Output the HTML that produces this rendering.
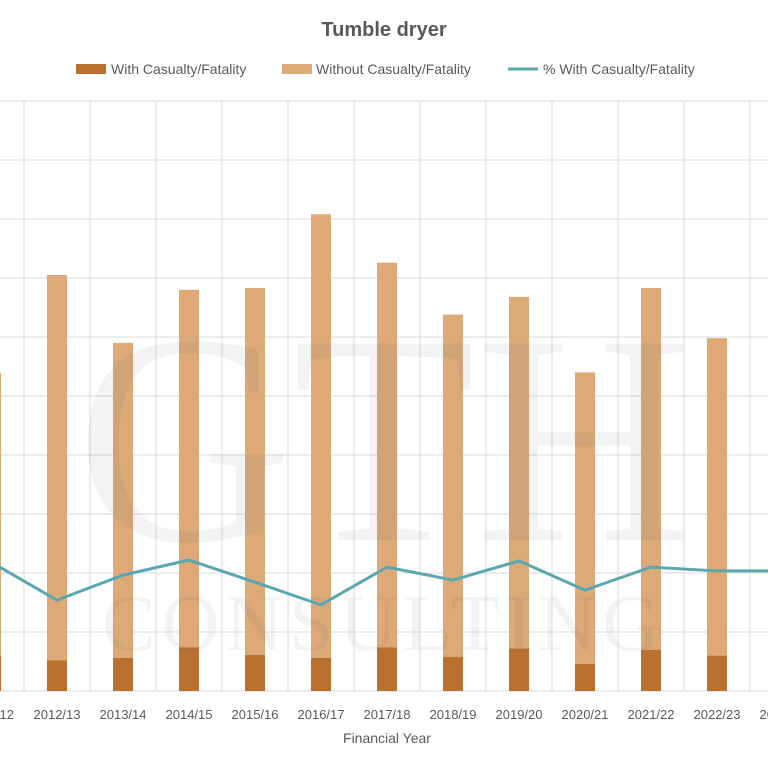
<!DOCTYPE html>
<html><head><meta charset="utf-8"><style>
html,body{margin:0;padding:0;background:#fff;}
svg{display:block;font-family:"Liberation Sans",sans-serif;}
</style></head><body>
<svg id="chart" width="768" height="768" viewBox="0 0 768 768">
<rect width="768" height="768" fill="#fff"/>
<g id="grid"></g>
<g id="bars"></g>
<g id="watermark" opacity="0.06">
<text x="384" y="540" text-anchor="middle" font-family="Liberation Serif,serif" font-size="300" fill="#3a4a6a">GTH</text>
<text x="384" y="650" text-anchor="middle" font-family="Liberation Serif,serif" font-size="80" letter-spacing="6" fill="#3a4a6a">CONSULTING</text>
</g>
<g id="line"></g>
<g id="xticks"></g>
<text x="384" y="36" text-anchor="middle" font-size="20" font-weight="bold" fill="#595959">Tumble dryer</text>
<g font-size="14" fill="#595959">
<g><rect x="76" y="64" width="30" height="10" fill="#B8712F"/><text x="111" y="74">With Casualty/Fatality</text></g>
<g><rect x="282" y="64" width="30" height="10" fill="#DDA977"/><text x="316" y="74">Without Casualty/Fatality</text></g>
<g><line x1="508" y1="69" x2="538" y2="69" stroke="#5BA7B0" stroke-width="3"/><text x="543" y="74">% With Casualty/Fatality</text></g>
</g>
<text x="387" y="743" text-anchor="middle" font-size="14" fill="#595959">Financial Year</text>
</svg>
<script>
const categories=["2011/12","2012/13","2013/14","2014/15","2015/16","2016/17","2017/18","2018/19","2019/20","2020/21","2021/22","2022/23","2023/24"];
const withCas=[30,26,28,37,30.5,28,37,29,36,23,35,30,28];
const withoutCas=[239.5,326.5,267,303,311,376,326,290,298,247,306.5,269,272];
const pctWith=[4.37,3.08,3.93,4.44,3.69,2.92,4.2,3.76,4.41,3.42,4.2,4.07,4.07];
const countTicks=[0,50,100,150,200,250,300,350,400,450,500];

const NS="http://www.w3.org/2000/svg";
const plotBase=691, plotTop=101;
const yC=v=>plotBase-(v/500)*(plotBase-plotTop);
const yP=v=>plotBase-(v/20)*(plotBase-plotTop);
const x0=-42, bw=66;
const xC=i=>x0+bw*(i+0.5);
function mk(t,a,p){const e=document.createElementNS(NS,t);for(const k in a)e.setAttribute(k,a[k]);p.appendChild(e);return e;}
const grid=document.getElementById('grid');
countTicks.forEach(v=>{
  const l=mk('line',{x1:0,x2:768,y1:yC(v),y2:yC(v),stroke:'#d9d9d9','stroke-width':1},grid);
  
  
});
for(let i=0;i<=categories.length;i++){
  const x=x0+bw*i;
  const l=mk('line',{x1:x,x2:x,y1:plotTop,y2:plotBase,stroke:'#d9d9d9','stroke-width':1},grid);
  
  
}
const bars=document.getElementById('bars'), xt=document.getElementById('xticks');
categories.forEach((c,i)=>{
  const cx=xC(i);
  const yw=yC(withCas[i]), yt=yC(withCas[i]+withoutCas[i]);
  const b2=mk('rect',{x:cx-10,y:yt,width:20,height:yw-yt,fill:'#DDA977'},bars);
  
  
  const b1=mk('rect',{x:cx-10,y:yw,width:20,height:plotBase-yw,fill:'#B8712F'},bars);
  
  
  const t=mk('text',{x:cx,y:719,'text-anchor':'middle','font-size':13,fill:'#595959'},xt);
  t.textContent=c;
  
  
});
const pts=pctWith.map((v,i)=>xC(i)+','+yP(v)).join(' ');
const pl=mk('polyline',{points:pts,fill:'none',stroke:'#5BA7B0','stroke-width':3,'stroke-linejoin':'round'},document.getElementById('line'));


</script>
</body></html>
